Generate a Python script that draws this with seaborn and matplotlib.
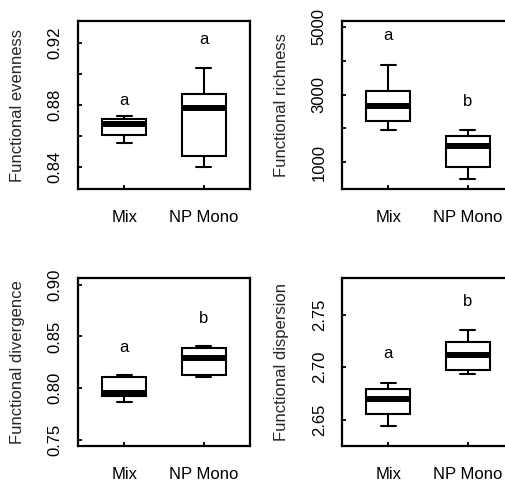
import numpy as np
import pandas as pd
import matplotlib
matplotlib.use('Agg')
import matplotlib.pyplot as plt
import seaborn as sns

# five-number summaries (min, lower hinge, median, upper hinge, max)
groups = ['Mix', 'NP Mono']

evenness_mix = [0.8554, 0.8610, 0.8680, 0.8707, 0.8730]
evenness_np = [0.8400, 0.8470, 0.8783, 0.8872, 0.9036]
richness_mix = [1946, 2221, 2655, 3108, 3867]
richness_np = [488, 843, 1473, 1778, 1946]
divergence_mix = [0.7865, 0.7923, 0.7955, 0.8110, 0.8123]
divergence_np = [0.8110, 0.8129, 0.8290, 0.8385, 0.8404]
dispersion_mix = [2.6442, 2.6551, 2.6698, 2.6795, 2.6846]
dispersion_np = [2.6940, 2.6978, 2.7118, 2.7244, 2.7359]

# significance letters and their heights
evenness_letters = ['a', 'a']
evenness_letter_y = [0.8827, 0.9222]
richness_letters = ['a', 'b']
richness_letter_y = [4754, 2783]
divergence_letters = ['a', 'b']
divergence_letter_y = [0.8394, 0.8678]
dispersion_letters = ['a', 'b']
dispersion_letter_y = [2.7128, 2.7628]

# y ticks (labels blanked where R dropped them)
evenness_ticks = [0.84, 0.86, 0.88, 0.90, 0.92]
evenness_ticklabels = ['0.84', '', '0.88', '', '0.92']
richness_ticks = [1000, 2000, 3000, 4000, 5000]
richness_ticklabels = ['1000', '', '3000', '', '5000']
divergence_ticks = [0.75, 0.80, 0.85, 0.90]
divergence_ticklabels = ['0.75', '0.80', '0.85', '0.90']
dispersion_ticks = [2.65, 2.70, 2.75]
dispersion_ticklabels = ['2.65', '2.70', '2.75']

sns.set_style('white')
plt.rcParams['font.family'] = ['Liberation Sans', 'DejaVu Sans']
FS = 12

W, H = 506, 484
fig = plt.figure(figsize=(W / 100, H / 100), dpi=100)


def rect(left, top, right, bottom):
    return [left / W, 1 - bottom / H, (right - left) / W, (bottom - top) / H]


panels = [
    (rect(78, 21, 250, 189), evenness_mix, evenness_np, 'Functional evenness',
     (0.826, 0.934), evenness_ticks, evenness_ticklabels, evenness_letters, evenness_letter_y),
    (rect(342, 21, 514, 189), richness_mix, richness_np, 'Functional richness',
     (202, 5177), richness_ticks, richness_ticklabels, richness_letters, richness_letter_y),
    (rect(78, 278, 250, 446), divergence_mix, divergence_np, 'Functional divergence',
     (0.744, 0.9065), divergence_ticks, divergence_ticklabels, divergence_letters, divergence_letter_y),
    (rect(342, 278, 514, 446), dispersion_mix, dispersion_np, 'Functional dispersion',
     (2.625, 2.785), dispersion_ticks, dispersion_ticklabels, dispersion_letters, dispersion_letter_y),
]

for pos, mix, npm, ylab, ylim, ticks, ticklabels, letters, letter_y in panels:
    ax = fig.add_axes(pos)
    df = pd.DataFrame({'group': [groups[0]] * len(mix) + [groups[1]] * len(npm),
                       'value': list(mix) + list(npm)})
    sns.boxplot(data=df, x='group', y='value', order=groups, ax=ax,
                width=0.55, color='white', linecolor='black', linewidth=1.5,
                whis=np.inf, capwidths=0.19,
                medianprops={'linewidth': 4.3, 'solid_capstyle': 'butt'})
    for i, (lt, ly) in enumerate(zip(letters, letter_y)):
        ax.text(i, ly, lt, ha='center', va='center', fontsize=FS, color='black')
    ax.set_xlim(-0.58, 1.58)
    ax.set_ylim(*ylim)
    ax.set_yticks(ticks)
    ax.set_yticklabels(ticklabels, rotation=90, va='center')
    ax.set_xlabel('')
    ax.set_ylabel(ylab, va='center', fontsize=FS)
    ax.yaxis.set_label_coords(-0.35, 0.5)
    ax.tick_params(axis='both', direction='in', length=3, width=1.3,
                   colors='black', labelsize=FS, bottom=True, left=True)
    ax.tick_params(axis='x', pad=15)
    ax.tick_params(axis='y', pad=11)
    for s in ax.spines.values():
        s.set_visible(True)
        s.set_linewidth(1.6)
        s.set_color('black')

fig.savefig('out.png', dpi=100, facecolor='white')
